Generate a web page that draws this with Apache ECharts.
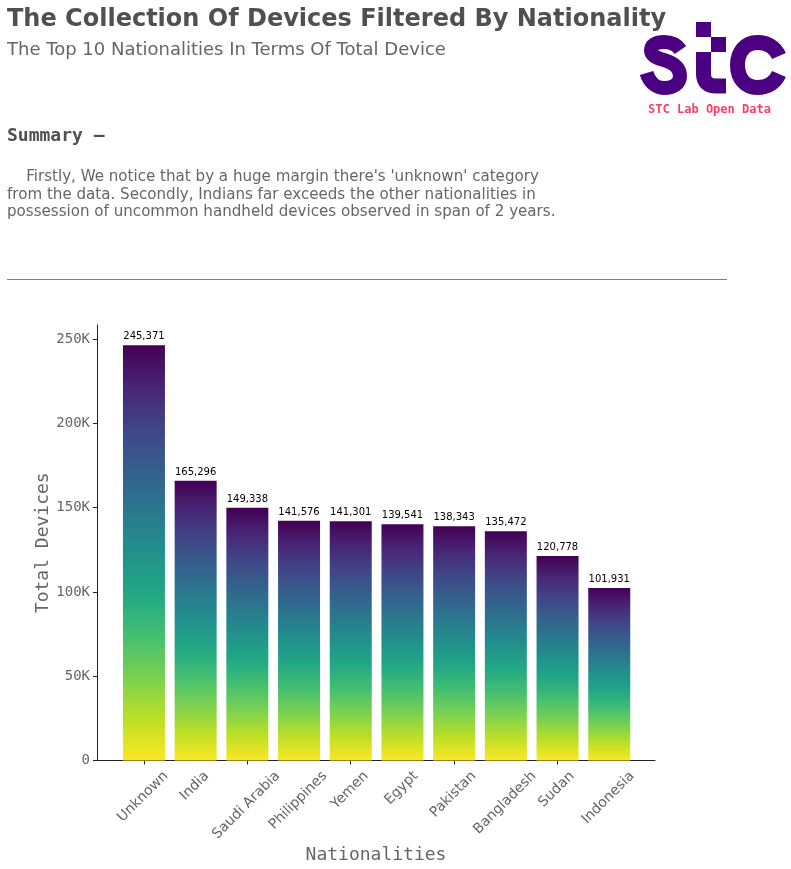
<!DOCTYPE html>
<html>
<head>
<meta charset="utf-8">
<style>html,body{margin:0;padding:0;background:#fff}#c{width:791px;height:869px}</style>
<script src="https://cdn.jsdelivr.net/npm/echarts@6/dist/echarts.min.js"></script>
</head>
<body>
<div id="c"></div>
<script>
const categories = ['Unknown','India','Saudi Arabia','Philippines','Yemen','Egypt','Pakistan','Bangladesh','Sudan','Indonesia'];
const totalDevices = [245371,165296,149338,141576,141301,139541,138343,135472,120778,101931];
const yTicks = {min:0,max:250000,interval:50000};
const viridisTopDown = ['#440154','#482475','#414487','#355f8d','#2a788e','#21918c','#22a884','#44bf70','#7ad151','#bddf26','#fde725'];
const titleText = 'The Collection Of Devices Filtered By Nationality';
const subtitleText = 'The Top 10 Nationalities In Terms Of Total Device';
const summaryHead = 'Summary \u2014';
const summaryLines = ["    Firstly, We notice that by a huge margin there's 'unknown' category","from the data. Secondly, Indians far exceeds the other nationalities in","possession of uncommon handheld devices observed in span of 2 years."];

const chart = echarts.init(document.getElementById('c'), null, {renderer:'canvas',width:791,height:869});
const tickFont = '14px "DejaVu Sans"';
const ctx = document.createElement('canvas').getContext('2d');
ctx.font = tickFont;
const grad = new echarts.graphic.LinearGradient(0,0,0,1,viridisTopDown.map((c,i)=>({offset:i/(viridisTopDown.length-1),color:c})));
const gray='#666666', dark='#505050', axisC='#222222', logo='#4b0082';
const txt=(x,y,t,font,fill,extra)=>({type:'text',x,y,silent:true,style:Object.assign({text:t,font,fill,align:'left',verticalAlign:'middle'},extra||{})});
const logoShapes={
  logoS:'M 680.5 50 C 677 45 671 42 664 42 C 656 42 651 45 651 50 C 651 56 657 58 664 60 C 674 63 680 68 680 76 C 680 84 673 88 664 88 C 655 88 649 81 646.5 73',
  logoT:'M 703.5 52 L 703.5 74 C 703.5 82 708 86 716 86 L 726 86',
  logoC:'M 779 56 C 775 47 767 42.5 757.5 42.5 C 745 42.5 737.5 52 737.5 65 C 737.5 78 745 87.5 757.5 87.5 C 767 87.5 775 83 779 74'
};
Object.keys(logoShapes).forEach(k=>echarts.graphic.registerShape(k,echarts.graphic.extendPath(logoShapes[k],{})));
const logoPath=(k,w)=>({type:k,silent:true,style:{fill:null,stroke:logo,lineWidth:w,lineCap:'butt'}});

chart.setOption({
  animation:false,
  grid:[
    {left:97,right:136,top:325,bottom:108.5,outerBoundsMode:'none'},
    {left:118.1,width:517,top:339,bottom:108.5,outerBoundsMode:'none'},
    {left:118.1,width:517,top:337.3,bottom:108.5,outerBoundsMode:'none'}
  ],
  xAxis:[
    {gridIndex:0,type:'value',min:0,max:1,axisLine:{show:true,lineStyle:{color:axisC,width:1}},axisTick:{show:false},axisLabel:{show:false},splitLine:{show:false},
     name:'Nationalities',nameLocation:'middle',nameGap:86,nameTextStyle:{fontFamily:'DejaVu Sans Mono',fontSize:18,color:gray}},
    {gridIndex:1,type:'category',data:categories,axisLine:{show:false},axisTick:{show:true,alignWithLabel:true,length:4,lineStyle:{color:axisC,width:1}},axisLabel:{show:false}},
    {gridIndex:2,type:'category',data:categories,axisLine:{show:false},axisTick:{show:false},axisLabel:{show:false}}
  ],
  yAxis:[
    {gridIndex:0,type:'value',min:0,max:1,axisLine:{show:true,lineStyle:{color:axisC,width:1}},axisTick:{show:false},axisLabel:{show:false},splitLine:{show:false},
     name:'Total Devices',nameLocation:'middle',nameGap:45,nameTextStyle:{fontFamily:'DejaVu Sans Mono',fontSize:18,color:gray}},
    {gridIndex:1,type:'value',min:yTicks.min,max:yTicks.max,interval:yTicks.interval,position:'left',offset:21.1,
     axisLine:{show:false},axisTick:{show:true,length:4,lineStyle:{color:axisC,width:1}},splitLine:{show:false},
     axisLabel:{margin:7,fontFamily:'DejaVu Sans Mono',fontSize:14,color:gray,formatter:v=>v===0?'0':(v/1000)+'K'}},
    {gridIndex:2,type:'value',min:yTicks.min,max:yTicks.max,interval:yTicks.interval,axisLine:{show:false},axisTick:{show:false},axisLabel:{show:false},splitLine:{show:false}}
  ],
  series:[
    {type:'bar',xAxisIndex:2,yAxisIndex:2,data:totalDevices,barWidth:42,itemStyle:{color:grad},silent:true,
     label:{show:true,position:'top',distance:3.5,fontFamily:'DejaVu Sans',fontSize:10,color:'#000',formatter:p=>p.value.toLocaleString('en-US')}},
    {type:'custom',xAxisIndex:1,yAxisIndex:1,silent:true,clip:false,data:categories.map((c,i)=>[i,0]),
     renderItem:(params,api)=>{
       const p=api.coord([api.value(0),0]);
       const t=categories[api.value(0)];
       const half=(ctx.measureText(t).width+15)*Math.SQRT1_2/2;
       return {type:'text',x:p[0]-1,y:p[1]+8+half,rotation:Math.PI/4,silent:true,
         style:{text:t,font:tickFont,fill:gray,align:'center',verticalAlign:'middle'}};
     }}
  ],
  graphic:[
    txt(7,19.5,titleText,'bold 24px "DejaVu Sans"',dark),
    txt(7,50,subtitleText,'18px "DejaVu Sans"',gray),
    txt(7,136,summaryHead,'bold 18px "DejaVu Sans Mono"',dark),
    txt(7,177,summaryLines[0],'15.1px "DejaVu Sans"',gray),
    txt(7,195,summaryLines[1],'15.1px "DejaVu Sans"',gray),
    txt(7,212,summaryLines[2],'15.1px "DejaVu Sans"',gray),
    {type:'line',silent:true,shape:{x1:7,y1:279.5,x2:727,y2:279.5},style:{stroke:'#808080',lineWidth:1}},
    logoPath('logoS',14),
    {type:'rect',silent:true,shape:{x:696,y:22,width:15,height:15},style:{fill:logo}},
    {type:'rect',silent:true,shape:{x:711,y:37,width:15,height:15},style:{fill:logo}},
    logoPath('logoT',15),
    logoPath('logoC',15),
    txt(709.5,110,'STC Lab Open Data','bold 12px "DejaVu Sans Mono"','#ff3d64',{align:'center'})
  ]
});
</script>
</body>
</html>
